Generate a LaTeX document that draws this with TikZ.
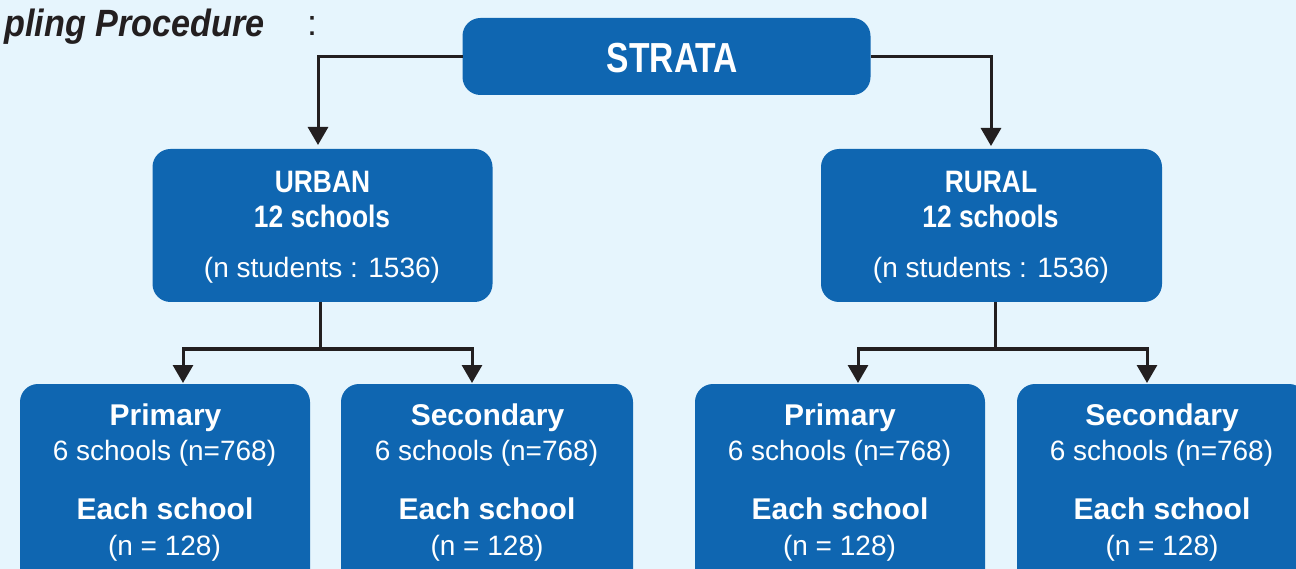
\documentclass[tikz,border=0pt]{standalone}
\usepackage{fontspec}
\setmainfont{Liberation Sans}
\newfontfamily\condfont{Liberation Sans}[FakeStretch=0.85]
\newfontfamily\stratafont{Liberation Sans}[FakeStretch=0.8]
\newfontfamily\titlefont{Liberation Sans}[FakeStretch=0.9]
\usetikzlibrary{arrows.meta}
\definecolor{bgblue}{HTML}{E6F5FD}
\definecolor{boxblue}{HTML}{0F66B1}
\definecolor{ink}{HTML}{231F20}
\newcommand\fsz[1]{\fontsize{#1}{#1}\selectfont}
\tikzset{
  box/.style={fill=boxblue, rounded corners=18pt, inner sep=0pt, outer sep=0pt},
  topbox/.style={box, minimum width=340pt, minimum height=153pt},
  lowbox/.style={box, minimum width=291pt, minimum height=220pt},
  line/.style={draw=ink, line width=3pt},
  conn/.style={line, -{Triangle[width=20pt,length=18pt]}},
  txt/.style={text=white, inner sep=0pt, outer sep=0pt, anchor=base},
  headtxt/.style={txt, font=\condfont\bfseries\fsz{31}},
  subtxt/.style={txt, font=\fsz{28}},
  lowhead/.style={txt, font=\bfseries\fsz{30}},
}
\begin{document}
\begin{tikzpicture}[x=1pt,y=-1pt]
\useasboundingbox (0,0) rectangle (1296,569);
\clip (0,0) rectangle (1296,569);
\fill[bgblue] (0,0) rectangle (1296,569);

% title
\node[inner sep=0pt, anchor=base east, text=ink, font=\titlefont\bfseries\itshape\fsz{38}] (title) at (265,37) {pling Procedure};
\node[inner sep=0pt, anchor=base, text=ink, font=\fsz{36}] (colon) at (312,36) {:};

% boxes
\node[box, minimum width=408pt, minimum height=77pt] (strata) at (666.5,56.5) {};
\node[topbox] (urban) at (322.5,225.5) {};
\node[topbox, minimum width=341pt] (rural) at (991.5,225.5) {};
\node[lowbox, minimum width=290pt] (up) at (165,494) {};
\node[lowbox, minimum width=292pt] (us) at (487,494) {};
\node[lowbox, minimum width=290pt] (rp) at (840,494) {};
\node[lowbox, minimum width=290pt] (rs) at (1162,494) {};

% connectors
\draw[conn, shorten >=4pt] (strata.west) -| ([xshift=-4.5pt]urban.north);
\draw[conn, shorten >=3pt] (strata.east) -| ([xshift=-0.5pt]rural.north);

\coordinate (uj) at ([xshift=-2.5pt,yshift=-47pt]urban.south);
\draw[line] ([xshift=-2.5pt]urban.south) -- (uj);
\draw[conn, shorten >=1pt] (uj) -| ([xshift=18pt]up.north);
\draw[conn, shorten >=1pt] (uj) -| ([xshift=-15pt]us.north);

\coordinate (rj) at ([xshift=3.5pt,yshift=-47pt]rural.south);
\draw[line] ([xshift=3.5pt]rural.south) -- (rj);
\draw[conn, shorten >=1pt] (rj) -| ([xshift=18pt]rp.north);
\draw[conn, shorten >=1pt] (rj) -| ([xshift=-15pt]rs.north);

% texts
\node[txt, font=\stratafont\bfseries\fsz{42}] (stratat) at (672.5,73) {STRATA};

\node[headtxt] (urbant) at (322.5,193) {URBAN};
\node[headtxt] (urbann) at (322,228) {12 schools};
\node[subtxt] (urbans) at (322,278) {(n students : 1536)};

\node[headtxt] (ruralt) at (991,193) {RURAL};
\node[headtxt] (ruraln) at (990.5,228) {12 schools};
\node[subtxt] (rurals) at (991,278) {(n students : 1536)};

\node[lowhead] (upt) at (165.5,425) {Primary};
\node[subtxt] (upn) at (164.5,460) {6 schools (n=768)};
\node[lowhead] (upe) at (165,519) {Each school};
\node[subtxt] (upc) at (164.5,555) {(n = 128)};

\node[lowhead] (ust) at (487.5,425) {Secondary};
\node[subtxt] (usn) at (486.5,460) {6 schools (n=768)};
\node[lowhead] (use) at (487,519) {Each school};
\node[subtxt] (usc) at (487,555) {(n = 128)};

\node[lowhead] (rpt) at (840,425) {Primary};
\node[subtxt] (rpn) at (839.5,460) {6 schools (n=768)};
\node[lowhead] (rpe) at (840,519) {Each school};
\node[subtxt] (rpc) at (839.5,555) {(n = 128)};

\node[lowhead] (rst) at (1162,425) {Secondary};
\node[subtxt] (rsn) at (1161.5,460) {6 schools (n=768)};
\node[lowhead] (rse) at (1162,519) {Each school};
\node[subtxt] (rsc) at (1162,555) {(n = 128)};
\end{tikzpicture}
\end{document}
